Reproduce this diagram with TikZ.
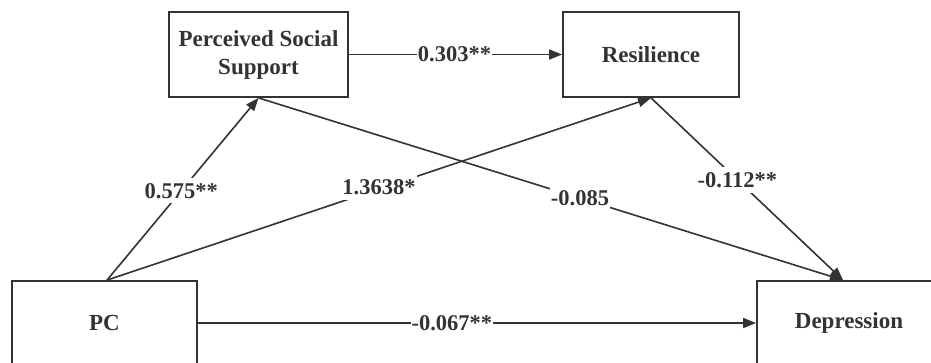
\documentclass[tikz,border=0pt]{standalone}
\usepackage{fontspec}
\setmainfont{Liberation Serif}
\usetikzlibrary{arrows.meta}
\definecolor{ink}{HTML}{333333}
\begin{document}
\begin{tikzpicture}[x=1pt,y=-1pt,
  box/.style={draw=ink,line width=1.8pt,fill=white,inner sep=0pt,align=center,
    font=\fontsize{23}{28}\selectfont\bfseries,text=ink},
  conn/.style={draw=ink,line width=1.6pt,-{Triangle[length=13pt,width=10pt]}},
  lab/.style={fill=white,inner xsep=1pt,inner ysep=5pt,font=\fontsize{22.5}{26}\selectfont\bfseries,text=ink}]
\useasboundingbox (0,0) rectangle (931,362);
\clip (0,0) rectangle (931,362);
\fill[white] (0,0) rectangle (931,362);
\node[box,minimum width=179pt,minimum height=85pt] (pss) at (258.5,54.5) {Perceived Social\\Support};
\node[box,minimum width=176pt,minimum height=85pt] (res) at (651,54.5) {Resilience};
\node[box,minimum width=185pt,minimum height=84pt] (pc) at (104.5,323) {PC};
\node[box,minimum width=184pt,minimum height=84pt] (dep) at (849,323) {Depression};
\coordinate (pctop) at ([xshift=2.5pt]pc.north);
\coordinate (deptop) at ([xshift=-6pt]dep.north);
\draw[conn] (pss.east) -- (res.west);
\draw[conn] (pctop) -- (pss.south);
\draw[conn] (pctop) -- (res.south);
\draw[conn] (pss.south) -- (deptop);
\draw[conn] (res.south) -- (deptop);
\draw[conn] (pc.east) -- (dep.west);
\path (pss.east) -- node[lab,pos=0.495]{0.303**} (res.west);
\path (pctop) -- node[lab,pos=0.49]{0.575**} (pss.south);
\path (pctop) -- node[lab,pos=0.5,yshift=1.5pt]{1.3638*} (res.south);
\path (pss.south) -- node[lab,pos=0.55]{-0.085} (deptop);
\path (res.south) -- node[lab,pos=0.45]{-0.112**} (deptop);
\path (pc.east) -- node[lab,pos=0.455]{-0.067**} (dep.west);
\end{tikzpicture}
\end{document}
